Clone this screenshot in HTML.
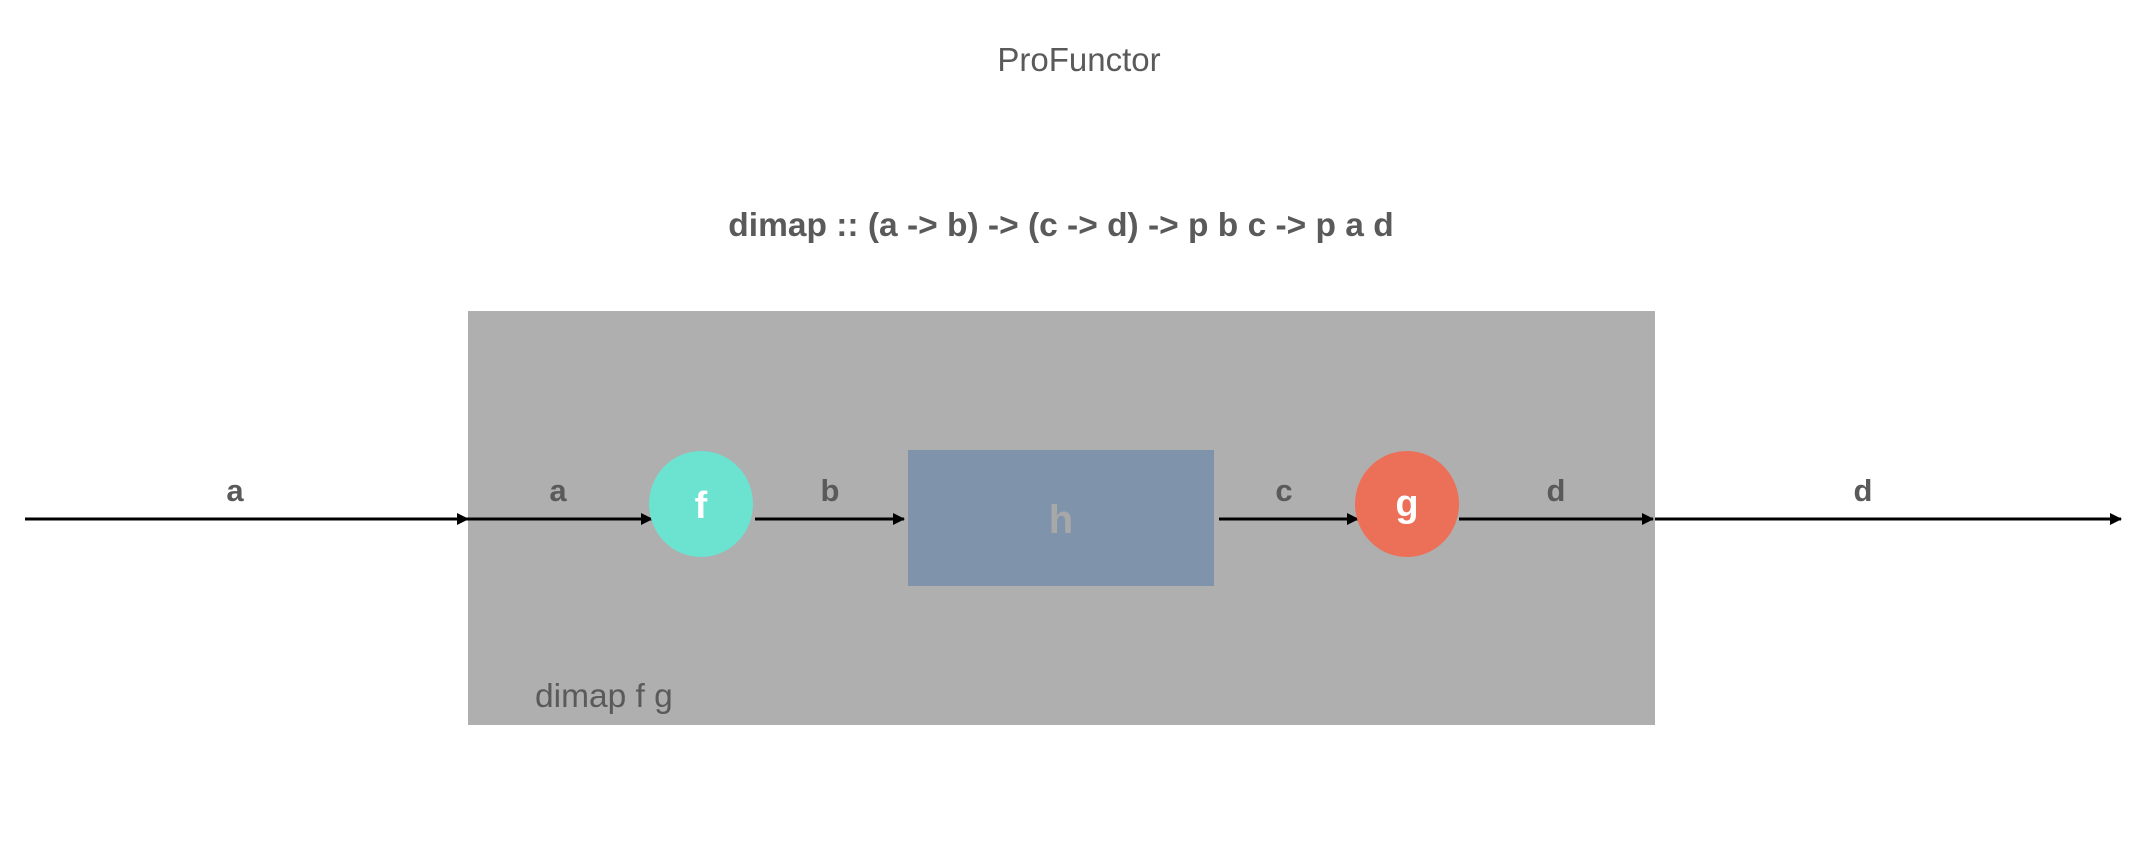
<!DOCTYPE html>
<html><head><meta charset="utf-8"><style>
html,body{margin:0;padding:0;background:#fff;}
svg{display:block;font-family:"Liberation Sans",Arial,sans-serif;}
</style></head><body>
<svg width="2144" height="848" viewBox="0 0 2144 848">
<defs>
<marker id="ah" markerWidth="12" markerHeight="12" refX="11" refY="6" orient="auto" markerUnits="userSpaceOnUse">
<path d="M0,0 L12,6 L0,12 z" fill="#000"/></marker>
</defs>
<text x="1079" y="71" text-anchor="middle" font-size="33" fill="#5a5a5a">ProFunctor</text>
<text x="1061" y="236" text-anchor="middle" font-size="33.5" font-weight="bold" fill="#5a5a5a">dimap :: (a -&gt; b) -&gt; (c -&gt; d) -&gt; p b c -&gt; p a d</text>
<rect x="468" y="311" width="1187" height="414" fill="#afafaf"/>
<rect x="908" y="450" width="306" height="136" fill="#7f94ab"/>
<text x="1061" y="533" text-anchor="middle" font-size="40" font-weight="bold" fill="#a8a8a8">h</text>
<g stroke="#000" stroke-width="3" marker-end="url(#ah)">
<line x1="25" y1="519" x2="468" y2="519"/>
<line x1="468" y1="519" x2="652" y2="519"/>
<line x1="755" y1="519" x2="904" y2="519"/>
<line x1="1219" y1="519" x2="1358" y2="519"/>
<line x1="1459" y1="519" x2="1653" y2="519"/>
<line x1="1655" y1="519" x2="2121" y2="519"/>
</g>
<ellipse cx="701" cy="504" rx="52" ry="53" fill="#6ce2d0"/>
<text x="701" y="518" text-anchor="middle" font-size="38" font-weight="bold" fill="#fff">f</text>
<ellipse cx="1407" cy="504" rx="52" ry="53" fill="#ec6f58"/>
<text x="1407" y="516" text-anchor="middle" font-size="38" font-weight="bold" fill="#fff">g</text>
<g font-size="31" font-weight="bold" fill="#5a5a5a" text-anchor="middle">
<text x="235" y="501">a</text>
<text x="558" y="501">a</text>
<text x="830" y="501">b</text>
<text x="1284" y="501">c</text>
<text x="1556" y="501">d</text>
<text x="1863" y="501">d</text>
</g>
<text x="535" y="707" font-size="33.5" fill="#5a5a5a">dimap f g</text>
</svg>
</body></html>
